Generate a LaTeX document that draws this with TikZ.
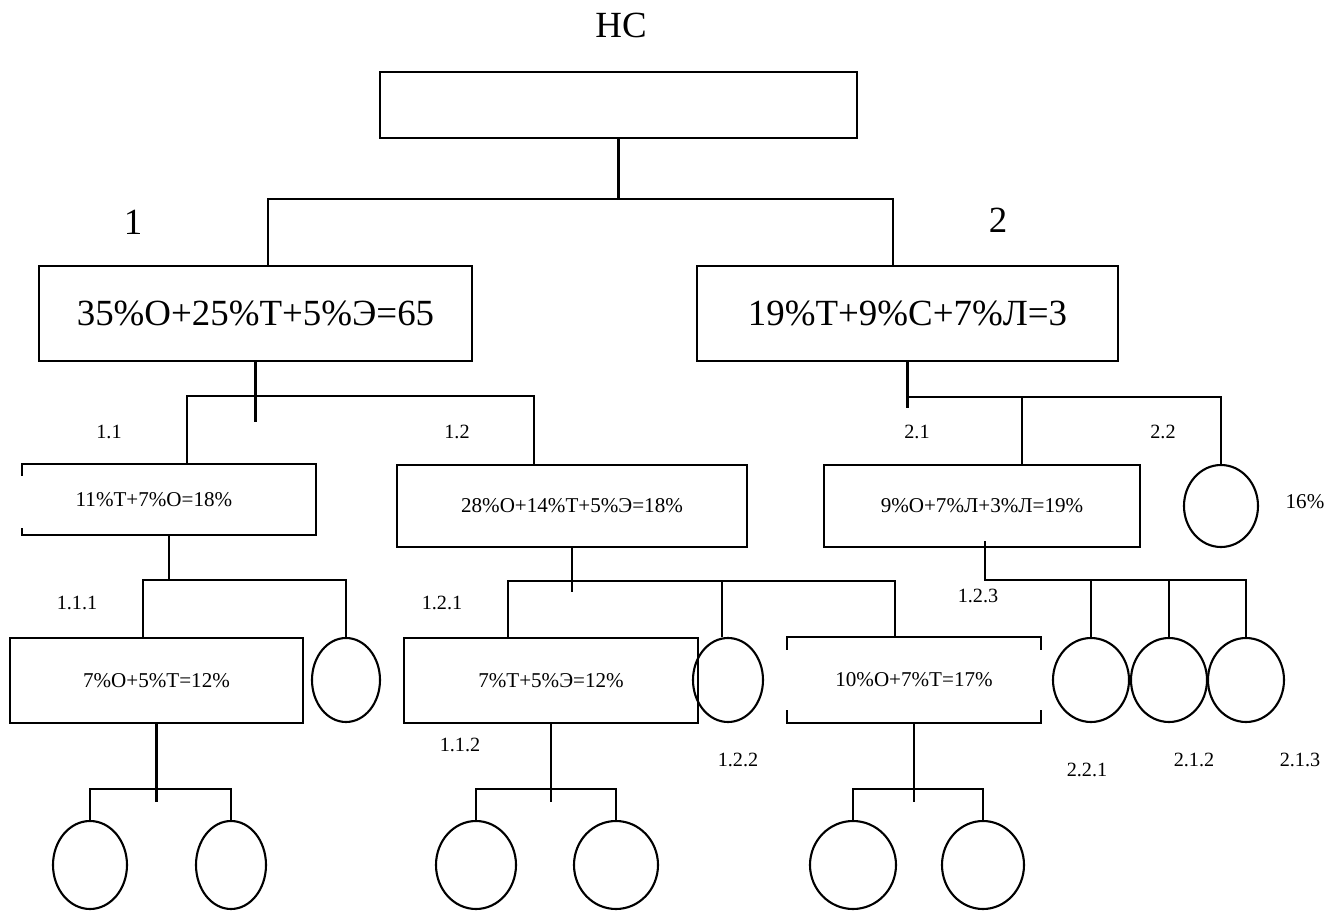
\documentclass[tikz,border=0pt]{standalone}
\usepackage{fontspec}
\setmainfont{LiberationSerif-Regular.ttf}
\usetikzlibrary{shapes.geometric}

\begin{document}
\begin{tikzpicture}[x=0.2mm, y=-0.2mm, line width=1.2pt,
    box/.style={draw, rectangle, inner sep=0pt},
    oval/.style={draw, ellipse, inner sep=0pt, minimum width=15.2mm, minimum height=16.8mm},
    big/.style={font=\rmfamily\fontsize{21}{25}\selectfont},
    small/.style={font=\rmfamily\fontsize{12}{14}\selectfont},
    tag/.style={font=\rmfamily\fontsize{11.5}{13}\selectfont}]
    \useasboundingbox (0,0) rectangle (1339,912);

    \node[big] (title) at (621,25) {НС};
    \node[box, minimum width=95.4mm, minimum height=13.2mm] (ns) at (618.5,105) {};

    \coordinate (j1l) at (268,199);
    \coordinate (j2r) at (893,199);
    \node[big] (n1) at (133,222) {1};
    \node[big] (n2) at (998,220) {2};
    \node[box, big, minimum width=86.6mm, minimum height=19mm] (b1) at (255.5,313.5) {35\%О+25\%Т+5\%Э=65};
    \node[box, big, minimum width=84.2mm, minimum height=19mm] (b2) at (907.5,313.5) {19\%Т+9\%С+7\%Л=3};
    \draw (ns.south) -- (ns.south |- j1l);
    \draw (b1.north -| j1l) -- (j1l) -- (j2r) -- (b2.north -| j2r);

    % branch 1
    \coordinate (s1) at (255.5,422);
    \coordinate (h1a) at (187,396);
    \coordinate (h1b) at (534,396);
    \node[tag] (n11) at (109,432) {1.1};
    \node[tag] (n12) at (457,432) {1.2};
    \node[minimum width=58.4mm, minimum height=13.8mm, inner sep=0pt,
          label={[small, xshift=-3mm]center:11\%Т+7\%О=18\%}] (b11) at (169,499.5) {};
    \node[box, small, minimum width=70mm, minimum height=16.4mm] (b12) at (572,506) {28\%О+14\%Т+5\%Э=18\%};
    \draw ([yshift=-2.4mm]b11.north west) -- (b11.north west) -- (b11.north east)
        -- (b11.south east) -- (b11.south west) -- ([yshift=1.4mm]b11.south west);
    \draw (b1.south) -- (s1);
    \draw (b11.north -| h1a) -- (h1a) -- (h1b) -- (b12.north -| h1b);

    % branch 2
    \coordinate (s2) at (907.5,408);
    \coordinate (h2a) at (907.5,397);
    \coordinate (h2m) at (1022,397);
    \coordinate (h2b) at (1221,397);
    \node[tag] (n21) at (917,432) {2.1};
    \node[tag] (n22) at (1163,432) {2.2};
    \node[box, small, minimum width=63.2mm, minimum height=16.4mm] (b21) at (982,506) {9\%О+7\%Л+3\%Л=19\%};
    \node[oval, minimum width=14.8mm, minimum height=16.4mm] (c22) at (1221,506) {};
    \node[small] (p22) at (1305,502) {16\%};
    \draw (b2.south) -- (s2);
    \draw (h2a) -- (h2b) -- (c22.north);
    \draw (h2m) -- (b21.north -| h2m);

    % level 1.1.x
    \coordinate (h3a) at (143,580);
    \coordinate (h3b) at (346,580);
    \node[tag] (n111) at (77,603) {1.1.1};
    \node[box, small, minimum width=58.6mm, minimum height=17mm] (b111) at (156.5,680.5) {7\%О+5\%Т=12\%};
    \node[oval, minimum width=13.6mm] (c112) at (346,680) {};
    \draw (b11.south) -- (b11.south |- h3a);
    \draw (b111.north -| h3a) -- (h3a) -- (h3b) -- (c112.north);

    \coordinate (s111) at (156.5,802);
    \coordinate (h4a) at (90,789);
    \coordinate (h4b) at (231,789);
    \node[oval, minimum width=14.8mm, minimum height=17.6mm] (c1) at (90,865) {};
    \node[oval, minimum width=14mm, minimum height=17.6mm] (c2) at (231,865) {};
    \draw (b111.south) -- (s111);
    \draw (c1.north) -- (h4a) -- (h4b) -- (c2.north);

    % level 1.2.x
    \coordinate (s12) at (572,592);
    \coordinate (h5a) at (508,581);
    \coordinate (h5m) at (722,581);
    \coordinate (h5b) at (895,581);
    \node[tag] (n121) at (442,603) {1.2.1};
    \node[tag] (n112) at (460,745) {1.1.2};
    \node[tag] (n122) at (738,760) {1.2.2};
    \node[box, small, minimum width=58.8mm, minimum height=17mm] (b121) at (551,680.5) {7\%Т+5\%Э=12\%};
    \node[oval, minimum width=14mm] (c122) at (728,680) {};
    \node[minimum width=50.4mm, minimum height=16.8mm, inner sep=0pt, small] (b123) at (914,680) {10\%О+7\%Т=17\%};
    \draw ([yshift=-2.6mm]b123.north west) -- (b123.north west) -- (b123.north east) -- ([yshift=-2.6mm]b123.north east);
    \draw ([yshift=2.6mm]b123.south west) -- (b123.south west) -- (b123.south east) -- ([yshift=2.6mm]b123.south east);
    \draw (b12.south) -- (s12);
    \draw (b121.north -| h5a) -- (h5a) -- (h5b) -- (b123.north -| h5b);
    \draw (h5m) -- (h5m |- c122.north);

    \coordinate (s121) at (551,802);
    \coordinate (h6a) at (476,789);
    \coordinate (h6b) at (616,789);
    \node[oval, minimum width=16mm, minimum height=17.6mm] (c3) at (476,865) {};
    \node[oval, minimum width=16.8mm, minimum height=17.6mm] (c4) at (616,865) {};
    \draw (b121.south) -- (s121);
    \draw (c3.north) -- (h6a) -- (h6b) -- (c4.north);

    \coordinate (s123) at (914,802);
    \coordinate (h7a) at (853,789);
    \coordinate (h7b) at (983,789);
    \node[oval, minimum width=17.2mm, minimum height=17.6mm] (c5) at (853,865) {};
    \node[oval, minimum width=16.4mm, minimum height=17.6mm] (c6) at (983,865) {};
    \draw (b123.south) -- (s123);
    \draw (c5.north) -- (h7a) -- (h7b) -- (c6.north);

    % level 2.x.x
    \coordinate (h8a) at (985,580);
    \coordinate (h8b) at (1246,580);
    \node[tag] (n123) at (978,596) {1.2.3};
    \node[oval] (c221) at (1091,680) {};
    \node[oval] (c212) at (1169,680) {};
    \node[oval] (c213) at (1246,680) {};
    \node[tag] (n221) at (1087,770) {2.2.1};
    \node[tag] (n212) at (1194,760) {2.1.2};
    \node[tag] (n213) at (1300,760) {2.1.3};
    \draw ([yshift=1.4mm]b21.south -| h8a) -- (h8a) -- (h8b) -- (c213.north);
    \draw (c221.north |- h8a) -- (c221.north);
    \draw (c212.north |- h8a) -- (c212.north);
\end{tikzpicture}
\end{document}
